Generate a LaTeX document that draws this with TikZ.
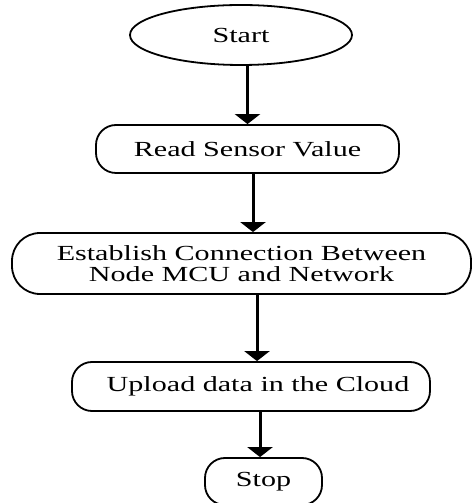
\documentclass[tikz,border=0pt]{standalone}
\usepackage{fontspec}
\setmainfont{Liberation Serif}[FakeStretch=1.4]
\usetikzlibrary{arrows.meta,shapes.geometric}

\tikzset{
  box/.style={draw=black, line width=1.8pt, rounded corners=20pt, inner sep=0pt,
              align=center, font=\fontsize{21.5}{21}\selectfont},
  terminal/.style={draw=black, line width=1.8pt, ellipse, inner sep=0pt,
              font=\fontsize{21.5}{21}\selectfont},
  flow/.style={line width=3pt, -{Triangle[width=25pt,length=10pt]}}
}

\begin{document}
\begin{tikzpicture}[x=1pt,y=1pt]
  \useasboundingbox (0,0) rectangle (472,503);

  % flowchart steps
  \node[terminal, minimum width=222pt, minimum height=60pt] (start) at (241,468) {Start};
  \node[box, minimum width=303pt, minimum height=48pt] (read) at (247.5,354) {Read Sensor Value};
  \node[box, rounded corners=28pt, minimum width=459pt, minimum height=61pt] (conn) at (241.5,239.5)
       {Establish Connection Between\\Node MCU and Network};
  \node[box, minimum width=358pt, minimum height=49pt] (upload) at (251,116.5)
       {\hspace*{14pt}Upload data in the Cloud};
  \node[box, minimum width=117pt, minimum height=47pt] (stop) at (263.5,21.5) {Stop};

  % connectors
  \draw[flow] (start.south -| read.north) -- (read.north);
  \draw[flow] ([xshift=5.5pt]read.south) -- ([xshift=5.5pt]read.south |- conn.north);
  \draw[flow] ([xshift=15.5pt]conn.south) -- ([xshift=15.5pt]conn.south |- upload.north);
  \draw[flow] ([xshift=9pt]upload.south) -- ([xshift=9pt]upload.south |- stop.north);
\end{tikzpicture}
\end{document}
